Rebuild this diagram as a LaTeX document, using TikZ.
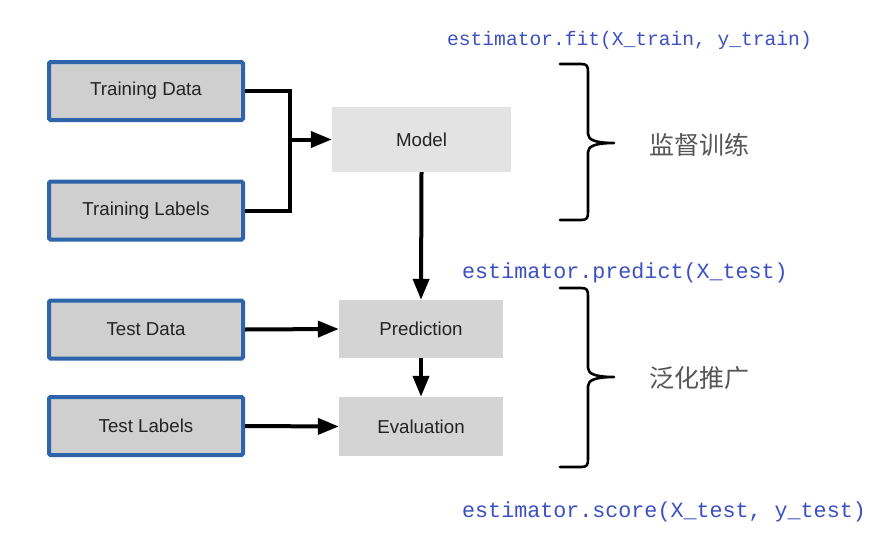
\documentclass[tikz,border=0pt]{standalone}
\usepackage{fontspec}
\setmainfont{Liberation Sans}
\newfontfamily\codefont{Liberation Mono}
\newfontfamily\cjk{Noto Sans CJK SC}
\usetikzlibrary{arrows.meta}
\definecolor{boxblue}{RGB}{45,100,170}
\definecolor{boxgray}{RGB}{207,207,207}
\definecolor{modelgray}{RGB}{227,227,227}
\definecolor{predgray}{RGB}{212,212,212}
\definecolor{codeblue}{RGB}{60,80,195}
\definecolor{txtgray}{RGB}{35,35,35}
\definecolor{cjkgray}{RGB}{85,85,85}
\tikzset{
  inbox/.style={draw=boxblue, line width=4pt, fill=boxgray, rounded corners=1.5pt,
    minimum width=194pt, minimum height=58pt, inner sep=0pt,
    font=\fontsize{18.7}{21}\selectfont, text=txtgray},
  procbox/.style={fill=predgray, draw=none, inner sep=0pt,
    font=\fontsize{18.7}{21}\selectfont, text=txtgray},
  conn/.style={line width=4pt, line join=miter},
  arr/.style={line width=4pt, -{Triangle[length=21pt,width=16pt]}},
  codetxt/.style={anchor=west, inner sep=0pt, text=codeblue},
  cjktxt/.style={anchor=west, inner sep=0pt, text=cjkgray, font=\cjk\fontsize{25}{28}\selectfont},
  bracepath/.style={line width=2.6pt, line cap=round, line join=round}
}
\begin{document}
\begin{tikzpicture}[x=1pt,y=-1pt]
\useasboundingbox[fill=white] (0,0) rectangle (872,538);
% input boxes
\node[inbox] (td) at (146,91) {Training Data};
\node[inbox] (tl) at (146,210.5) {Training Labels};
\node[inbox] (xd) at (146,329.5) {Test Data};
\node[inbox] (xl) at (146,426) {Test Labels};
% process boxes
\node[procbox, fill=modelgray, minimum width=179pt, minimum height=65pt] (model) at (421.5,139.5) {Model};
\node[procbox, minimum width=164pt, minimum height=58pt] (pred) at (421,329) {Prediction};
\node[procbox, minimum width=164pt, minimum height=59pt] (eval) at (421,426.5) {Evaluation};
% connectors
\coordinate (j) at (290,139.5);
\draw[conn] (td.east) -| (j) |- (tl.east);
\draw[arr] (j) -- (model.west);
\draw[arr] (model.south) -- (pred.north);
\draw[arr] (pred.south) -- (eval.north);
\draw[arr] (xd.east) -- (pred.west);
\draw[arr] (xl.east) -- (eval.west);
% code labels
\node[codetxt, font=\codefont\fontsize{19.6}{22}\selectfont] (fit) at (447,40) {estimator.fit(X\_train, y\_train)};
\node[codetxt, font=\codefont\fontsize{21.7}{24}\selectfont] (predict) at (462,273) {estimator.predict(X\_test)};
\node[codetxt, font=\codefont\fontsize{21.7}{24}\selectfont] (score) at (462,512) {estimator.score(X\_test, y\_test)};
% braces
\draw[bracepath] (560,64) -- (581,64) .. controls (587,64) and (588,66) .. (588,72) -- (588,134)
  .. controls (588,140) and (596,143) .. (614,143)
  .. controls (596,143) and (588,146) .. (588,152) -- (588,212)
  .. controls (588,218) and (587,220) .. (581,220) -- (560,220);
\draw[bracepath] (560,288) -- (581,288) .. controls (587,288) and (588,290) .. (588,296) -- (588,368)
  .. controls (588,374) and (596,377) .. (614,377)
  .. controls (596,377) and (588,380) .. (588,386) -- (588,459)
  .. controls (588,465) and (587,467) .. (581,467) -- (560,467);
% chinese labels
\node[cjktxt] (sup) at (649,145) {监督训练};
\node[cjktxt] (gen) at (649,378) {泛化推广};
\end{tikzpicture}
\end{document}
